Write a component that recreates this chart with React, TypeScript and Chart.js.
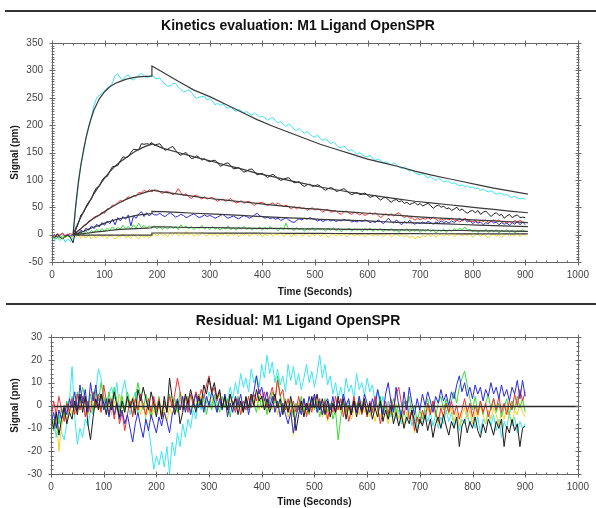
import React, { useEffect, useRef } from 'react';
import { Chart, registerables } from 'chart.js';

Chart.register(...registerables);

// ---------- data ----------
// Sensor traces are sampled every SAMPLE_STEP seconds, from 0 s to 900 s.
const SAMPLE_STEP = 5;

const cyanSignal = [
  -8, -12, -5, -11, -3, -14, -8, -13, -5, 48, 90, 128, 150, 178, 195, 216, 236, 250, 255, 258,
  262, 268, 271, 277, 290, 294, 286, 283, 289, 292, 285, 282, 287, 291, 295, 290, 286, 289, 292, 286,
  285, 286, 280, 275, 271, 272, 276, 276, 270, 265, 261, 262, 265, 260, 253, 249, 251, 252, 253, 246,
  249, 244, 237, 240, 236, 239, 233, 231, 234, 228, 225, 229, 226, 222, 225, 221, 218, 222, 219, 215,
  216, 213, 209, 212, 214, 208, 204, 207, 201, 198, 202, 199, 193, 190, 194, 189, 185, 188, 184, 180,
  178, 182, 176, 172, 175, 171, 166, 169, 165, 160, 158, 162, 157, 153, 155, 151, 147, 150, 146, 143,
  142, 145, 139, 136, 138, 135, 131, 133, 130, 127, 131, 128, 123, 121, 124, 119, 116, 118, 113, 111,
  109, 112, 107, 104, 106, 102, 99, 103, 100, 96, 98, 97, 93, 95, 92, 89, 91, 88, 89, 86,
  87, 84, 85, 81, 83, 80, 78, 80, 77, 74, 76, 75, 72, 73, 70, 68, 70, 67, 65, 67,
  64,
];
const blackSignal = [
  -2, -6, 1, -4, -8, -3, -1, -5, -15, 8, 20, 36, 40, 52, 60, 65, 78, 86, 88, 99,
  105, 106, 116, 124, 125, 126, 135, 142, 141, 142, 150, 156, 155, 155, 166, 165, 166, 165, 168, 163,
  165, 166, 160, 154, 156, 159, 161, 154, 148, 145, 148, 150, 144, 139, 140, 144, 141, 136, 139, 135,
  133, 135, 136, 131, 125, 127, 130, 131, 126, 120, 121, 123, 118, 114, 116, 119, 120, 115, 109, 111,
  112, 108, 104, 108, 110, 107, 102, 99, 101, 103, 104, 99, 95, 95, 97, 91, 88, 91, 92, 88,
  89, 91, 89, 84, 81, 84, 86, 84, 79, 80, 82, 84, 80, 76, 73, 75, 77, 73, 74, 76,
  72, 68, 70, 72, 67, 63, 67, 68, 63, 59, 63, 64, 60, 62, 57, 59, 55, 57, 59, 54,
  57, 52, 55, 57, 53, 48, 52, 54, 50, 52, 47, 49, 44, 47, 50, 44, 47, 42, 39, 43,
  44, 40, 44, 37, 41, 43, 38, 33, 38, 40, 35, 37, 30, 34, 37, 31, 34, 36, 31, 32,
  31,
];
const redSignal = [
  1, -3, 2, -1, 3, -2, 0, 2, -1, 3, 8, 10, 17, 18, 25, 26, 32, 34, 35, 41,
  39, 47, 48, 54, 53, 58, 63, 60, 65, 69, 67, 72, 70, 77, 76, 81, 78, 82, 78, 82,
  81, 78, 75, 78, 79, 76, 73, 76, 84, 77, 71, 75, 69, 66, 71, 72, 68, 65, 69, 65,
  67, 68, 64, 61, 64, 65, 61, 63, 66, 61, 58, 59, 62, 57, 60, 61, 57, 53, 57, 58,
  59, 56, 53, 56, 58, 54, 58, 54, 51, 54, 51, 47, 51, 47, 51, 47, 49, 44, 47, 49,
  45, 47, 45, 41, 45, 46, 41, 42, 44, 39, 37, 42, 43, 39, 37, 41, 39, 36, 39, 35,
  37, 40, 37, 40, 35, 31, 35, 38, 35, 38, 34, 38, 40, 35, 31, 35, 30, 31, 26, 30,
  27, 30, 28, 31, 28, 32, 28, 25, 29, 26, 29, 27, 30, 26, 27, 23, 26, 30, 26, 24,
  24, 26, 22, 26, 24, 27, 22, 24, 27, 24, 27, 22, 24, 21, 24, 22, 26, 23, 26, 23,
  22,
];
const blueSignal = [
  -3, 0, -5, -1, 2, -3, 1, -2, 0, 4, 1, 8, 5, 12, 8, 16, 11, 19, 14, 22,
  17, 25, 20, 28, 18, 31, 25, 33, 28, 36, 16, 34, 30, 38, 42, 33, 40, 34, 39, 36,
  36, 39, 35, 33, 37, 40, 36, 32, 34, 37, 35, 31, 33, 36, 38, 34, 31, 33, 36, 33,
  35, 33, 30, 32, 35, 37, 33, 30, 32, 34, 31, 29, 32, 35, 33, 30, 32, 36, 39, 34,
  33, 30, 32, 29, 31, 28, 30, 26, 28, 31, 27, 24, 22, 26, 29, 27, 30, 28, 31, 29,
  28, 25, 27, 24, 26, 28, 25, 27, 24, 26, 25, 28, 26, 27, 23, 25, 23, 26, 24, 27,
  25, 22, 24, 22, 27, 24, 20, 25, 30, 24, 21, 27, 22, 18, 24, 21, 26, 22, 19, 22,
  20, 23, 21, 24, 22, 19, 23, 21, 25, 22, 24, 21, 25, 22, 26, 30, 25, 28, 23, 26,
  20, 24, 21, 23, 18, 22, 20, 25, 21, 23, 18, 22, 19, 21, 17, 22, 19, 24, 18, 23,
  18,
];
const greenSignal = [
  -4, -8, -2, -6, -1, -5, -2, -6, -1, 2, -1, 4, 1, 6, 2, 8, 3, 10, 5, 11,
  6, 12, 8, 14, 9, 13, 10, 17, 11, 15, 10, 18, 12, 21, 13, 17, 11, 16, 12, 16,
  10, 15, 9, 14, 10, 16, 11, 15, 9, 18, 12, 16, 10, 15, 9, 14, 11, 17, 10, 14,
  9, 15, 10, 13, 8, 14, 10, 16, 9, 13, 8, 14, 10, 15, 9, 13, 8, 12, 10, 14,
  8, 13, 9, 15, 10, 12, 7, 13, 9, 21, 10, 12, 7, 13, 9, 12, 6, 11, 8, 13,
  7, 12, 9, 11, 6, 12, 8, 13, 7, 11, 5, 10, 8, 12, 6, 11, 8, 10, 5, 11,
  7, 12, 6, 10, 8, 11, 5, 10, 7, 11, 6, 9, 4, 10, 7, 11, 5, 9, 6, 10,
  4, 9, 6, 10, 5, 9, 3, 8, 6, 10, 4, 9, 6, 11, 7, 12, 9, 14, 8, 10,
  5, 9, 4, 8, 6, 10, 4, 8, 5, 9, 3, 8, 5, 9, 4, 8, 3, 7, 6, 9,
  5,
];
const yellowSignal = [
  -2, -5, -1, -9, -3, -6, 0, -4, -2, -5, 1, -7, -2, -6, 0, -8, -3, -6, 1, -5,
  -2, -7, 0, -4, -8, -2, -5, 1, -6, -3, -7, 0, -4, -8, -1, -5, -2, -6, -1, 2,
  -3, 4, -2, 1, -4, 3, -1, 5, -3, 2, -2, 6, -1, 3, -3, 2, -2, 4, 0, -3,
  3, -2, 2, -4, 1, -1, 4, -3, 2, -2, 3, -4, 1, -1, 4, -3, 0, 3, -2, 2,
  -4, 1, -2, 3, -3, 1, -1, 4, -3, 0, 2, -4, 1, -2, 3, -3, 0, 2, -4, 1,
  -2, 3, -3, 0, 2, -5, -1, 2, -3, 1, -2, 3, -4, 0, 2, -3, 1, -2, 3, -4,
  0, 2, -3, 1, -2, 3, -4, 0, 2, -5, -1, 2, -3, 1, -4, -1, -6, -2, -8, -3,
  -6, -1, -4, 1, -3, 0, -5, -1, 2, -3, 1, -2, 3, -4, 0, 2, -3, 1, -2, 3,
  -5, -1, 2, -3, 1, -2, -6, -1, 2, -3, 0, -5, -1, 2, -3, 0, -2, 3, -4, 1,
  -2,
];

// Fitted kinetic model curves (time points in seconds)
const fitTimes = [
  40, 45, 50, 55, 60, 65, 70, 75, 80, 90, 100, 110, 120, 130, 140, 150, 160, 170, 180, 190,
  190, 210, 240, 270, 300, 330, 360, 390, 420, 450, 480, 510, 540, 570, 600, 630, 660, 690,
  720, 750, 780, 810, 840, 870, 905,
];
const cyanFit = [
  0, 52, 95, 128, 155, 178, 198, 214, 228, 248, 261, 270, 276, 280, 283.5, 286, 287.5, 288.5, 289, 289.5,
  308, 297, 280, 264, 252, 238, 224, 210, 198, 187, 176, 165, 156, 147, 138, 131, 124, 116,
  109, 103, 97, 91, 85, 80, 74,
];
const blackFit = [
  0, 11, 22, 32, 42, 50, 58, 67, 75, 90, 103, 115, 125, 133, 140, 147, 153, 158, 162, 165,
  166, 158, 150, 142, 135, 127, 120, 112, 106, 99, 93, 87, 82, 77, 73, 69, 65, 61,
  58, 55, 52, 49, 46, 43, 40,
];
const redFit = [
  0, 3, 7, 11, 15, 19, 23, 27, 30, 36, 42, 48, 54, 59, 64, 68, 72, 75, 78, 80,
  81, 78, 74, 70, 66, 63, 60, 57, 54, 51, 48, 46, 43, 41, 39, 37, 35, 33,
  31, 29.5, 28, 26.5, 25, 23.5, 22,
];
const blueFit = [
  0, 1.5, 3, 4.5, 6, 8, 10, 12, 14, 17, 21, 24, 27, 29.5, 31, 33, 35, 36.5, 37.5, 38.5,
  42.5, 42, 40.5, 39, 38, 36.5, 35, 33.5, 32, 30.5, 29.5, 28, 27, 26, 25, 23.5, 22.5, 21.5,
  20.5, 19.5, 18.5, 17.5, 16.5, 15.5, 14.5,
];
const greenFit = [
  0, 0.5, 1, 1.5, 2, 2.5, 3, 3.5, 4.5, 5.5, 6.5, 7.5, 8.5, 9.5, 10, 10.5, 11, 11.5, 12, 12.5,
  14, 14, 13.5, 13, 13, 12.5, 12, 11.5, 11.5, 11, 10.5, 10.5, 10, 9.5, 9.5, 9, 8.5, 8.5,
  8, 7.5, 7.5, 7, 7, 6.5, 6,
];
const yellowFit = [
  -1, -1, -1, -1, -1, -1, -1, -1, -1, -1, -1, -1, -1, -1, -1, -1, -1, -1, -1, -1,
  3, 3, 3, 3, 2.9, 2.8, 2.7, 2.6, 2.5, 2.4, 2.3, 2.2, 2.1, 2, 2, 1.9, 1.8, 1.7,
  1.6, 1.6, 1.5, 1.5, 1.4, 1.4, 1.3,
];

// Residuals (signal minus fit), same sampling
const cyanResidual = [
  -10, -6, -14, -4, -12, -15, -8, 2, 17, -5, -17, -10, -14, -6, -9, -2, -4, 6, 16, 12,
  2, -3, 5, 8, 3, 10, -2, 6, 11, 3, -4, 2, 6, -3, 4, 1, -6, -10, -18, -28,
  -22, -26, -20, -27, -18, -30, -16, -22, -12, -18, -8, -14, -6, -10, -2, -6, 3, -2, 5, 1,
  6, 0, 4, -3, 2, -2, 5, 1, 8, 3, 10, 5, 14, 8, 12, 6, 16, 10, 13, 8,
  18, 12, 22, 14, 19, 10, 16, 9, 13, 6, 18, 11, 17, 9, 14, 7, 12, 18, 10, 15,
  8, 14, 22, 12, 18, 9, 13, 5, 10, 3, 8, 2, 12, 6, 9, 3, 14, 7, 10, 4,
  12, 6, 9, 2, 7, -1, 4, -3, 2, -5, 0, -6, -2, -8, -3, -7, -1, -9, -4, -10,
  -5, -8, -2, -7, -3, -9, -4, -10, -5, -8, -2, -7, -3, -9, -5, -11, -6, -8, -3, -9,
  -4, -10, -5, -12, -6, -8, -2, -9, -4, -11, -6, -14, -7, -10, -3, -9, -5, -12, -7, -10,
  -8,
];
const blackResidual = [
  -4, -10, -3, -13, -6, -1, -8, -3, -6, 2, -4, 5, -3, 4, -8, -15, -5, 3, -2, 5,
  1, -4, 3, -2, 6, 0, -5, 2, -3, 4, -1, 3, -4, 7, 2, 8, 3, -2, 6, 1,
  -5, 2, -6, 4, -3, 12, 3, -4, 2, -8, -3, 5, 1, 7, 2, -3, 4, 0, 9, 5,
  12, 6, 10, 3, 7, -1, 4, -2, 5, 0, 3, -4, 2, -3, 4, -1, 5, 0, 7, 2,
  4, -2, 3, -3, 1, 5, -1, 3, -4, 2, -3, 4, -2, -11, -4, 2, -5, 1, -3, 4,
  -1, 5, -2, 3, -4, 2, -5, 1, -3, 4, -2, 3, -6, 0, -4, 2, -5, 1, -3, 3,
  -4, 1, -6, -1, -5, 2, -7, -2, -6, 0, -8, -3, -9, -4, -10, -5, -8, -2, -7, -12,
  -6, -9, -4, -11, -6, -14, -8, -5, -10, -4, -9, -13, -7, -10, -5, -18, -9, -6, -12, -7,
  -10, -5, -11, -14, -8, -12, -6, -9, -13, -7, -10, -6, -18, -9, -12, -6, -11, -8, -18, -10,
  -9,
];
const redResidual = [
  -6, 2, -4, 4, -2, -7, 1, -3, 3, -4, 5, -2, 4, -5, 2, -3, 6, -1, 5, -3,
  9, 2, -4, 3, -6, 1, -8, -3, -11, -4, 2, -5, 3, -2, 5, 0, -4, 3, -3, 4,
  -2, 3, -5, 2, -3, 4, -1, 5, 12, 6, -2, 4, -3, 5, 0, 6, 2, 7, 3, 9,
  13, 5, 8, 2, 6, -1, 4, -2, 5, 1, -3, 3, -4, 2, -2, 4, -1, 5, 2, 7,
  3, 6, -1, 4, 8, 2, 11, 4, 7, -2, 3, -4, 2, -3, 4, -2, 3, -5, 1, -3,
  5, -1, 3, -4, 2, -6, 0, -3, 4, -2, 3, -5, 1, -7, -2, 4, -3, 2, -4, 1,
  -5, 2, -3, 4, -1, -8, -3, 2, -4, 3, -2, 5, 8, 1, -4, 2, -6, -2, -11, -5,
  -8, -2, -6, 1, -4, 2, -3, -7, -1, -5, 1, -3, 2, -4, 0, -6, -2, 3, -3, 1,
  -5, 0, -4, 2, -3, 1, -5, -1, 3, -2, 4, -3, 1, -4, 2, -2, 5, 0, 7, 2,
  6,
];
const blueResidual = [
  -8, -3, -10, -2, -6, 0, -4, 3, -1, 6, -2, 9, 1, 7, -3, 10, 2, 9, -1, 5,
  -2, 3, -5, 2, -4, 1, -6, -2, -8, -4, -10, -16, -8, -3, -9, -14, -6, -11, -4, -8,
  -12, -5, -9, -3, -7, -12, -4, -1, 3, -2, 4, -3, 2, -4, 1, 5, -1, 3, -3, 4,
  0, 6, 2, -3, 3, -2, 5, -5, 1, -3, 4, 0, 5, -2, 3, -4, 2, 6, 13, 5,
  8, 2, 6, -1, 4, -3, 2, -5, 1, -4, -8, -3, -12, -5, 0, -4, 3, -2, 4, -1,
  5, -3, 2, -4, 1, 3, -2, 4, -3, 2, -1, 5, 0, 3, -4, 2, -3, 4, -2, 5,
  1, -3, 3, -1, 7, 2, -4, 5, 10, 2, -3, 8, 0, -5, 6, -2, 8, 1, -4, 3,
  -2, 5, 0, 6, 2, -3, 4, 1, 7, 2, 5, 0, 6, 3, 9, 13, 6, 10, 4, 8,
  3, 9, 5, 8, 2, 7, 4, 10, 5, 8, 3, 9, 4, 7, 2, 8, 5, 11, 3, 11,
  4,
];
const greenResidual = [
  -6, -11, -3, -8, -1, -5, 2, -3, 4, -1, 6, 1, 8, 3, -2, 5, -3, 7, 2, 10,
  4, -1, 6, 0, 8, 2, -3, 4, -2, 6, 1, -4, 3, 10, 4, -2, 5, 0, -5, 2,
  -3, 4, -4, 1, -2, 5, 0, 3, -3, 6, 1, -2, 4, -3, 2, -1, 5, 0, 3, -4,
  2, -2, 5, 1, -3, 4, -1, 3, -5, 2, -2, 4, 0, -3, 3, -2, 5, 1, -3, 4,
  -1, 3, -4, 2, 6, 1, 13, 5, -2, 3, -3, 2, -5, 1, -2, 4, -3, 1, -4, 3,
  -2, 2, -5, 0, 3, -3, 1, -6, -2, -15, -5, 1, -3, 2, -4, 3, -1, 4, -3, 2,
  -5, 1, -3, 3, -2, 4, -4, 0, -6, -2, 3, -3, 1, -5, 2, -2, 4, -4, 0, -7,
  -2, -6, -1, 3, -3, 2, -5, 1, 4, -2, 3, -3, 2, 6, 1, 8, 12, 15, 9, 3,
  -2, 4, -3, 2, -4, 1, 5, -2, 3, -3, 1, -5, -1, 3, -4, 2, -2, 4, -1, 3,
  -3,
];
const yellowResidual = [
  -2, -8, -4, -20, -9, -3, -6, 0, -4, 2, -3, 4, -1, 3, -4, 2, -2, 5, 0, -3,
  4, -1, 3, -4, 2, -2, 5, 0, -3, 3, -1, 4, -2, 2, -4, 1, -5, -1, -6, -2,
  -4, 0, -5, -2, -7, -1, -4, 1, -3, 3, -2, 4, 0, -3, 2, 6, 1, 4, -2, 3,
  -1, 4, 0, -3, 2, -2, 3, -4, 1, -2, 4, -1, 2, -3, 3, -1, 5, 0, 3, -2,
  4, 0, -3, 2, -2, 3, -4, 1, -3, 2, -5, -2, -13, -4, 1, -3, 2, -4, 0, -2,
  3, -3, 1, -5, -1, -7, -2, 2, -4, 0, -3, 2, -5, -1, -6, -2, 1, -4, 2, -3,
  0, -5, -1, -7, -2, -5, 0, -3, -8, -2, -5, 1, -6, -2, -9, -3, -6, -1, -12, -5,
  -8, -3, -6, -1, -4, 2, -3, -8, -2, -5, 1, -4, -1, -7, -3, -9, -4, -1, -6, -2,
  -8, -3, -5, 0, -4, -8, -2, -6, -1, -4, -9, -3, -6, -1, -5, -8, -2, -4, 1, -3,
  -5,
];

// ---------- styling ----------
const FONT = '"Liberation Sans", Arial, Helvetica, sans-serif';
const COLORS = {
  cyan: '#38E6F2',
  black: '#1c1c1c',
  red: '#F23030',
  blue: '#2A2AE0',
  green: '#36DC36',
  yellow: '#F2D21E',
  fit: '#3a3a3a',
};

const sampled = (values: number[]) => values.map((y, i) => ({ x: i * SAMPLE_STEP, y }));
const fitted = (values: number[]) => values.map((y, i) => ({ x: fitTimes[i], y }));

const lineDs = (data: any[], color: string, width = 1) => ({
  data,
  borderColor: color,
  backgroundColor: color,
  borderWidth: width,
  pointRadius: 0,
  tension: 0,
  fill: false,
});

type FrameOpts = {
  title: string;
  xTitle: string;
  yTitle: string;
  titleY: number;
  xTitleY: number;
  xMajor: number;
  xMinor: number;
  yMajor: number;
  yMinor: number;
  zeroLine?: boolean;
};

function framePlugin(o: FrameOpts) {
  return {
    id: 'frame',
    afterDatasetsDraw(chart: any) {
      if (!o.zeroLine) return;
      const { ctx, chartArea: a, scales } = chart;
      const y = Math.round(scales.y.getPixelForValue(0)) + 0.5;
      ctx.save();
      ctx.strokeStyle = '#2a2a2a';
      ctx.lineWidth = 1.5;
      ctx.beginPath();
      ctx.moveTo(a.left, y);
      ctx.lineTo(a.right, y);
      ctx.stroke();
      ctx.restore();
    },
    afterDraw(chart: any) {
      const { ctx, chartArea: a, scales, width } = chart;
      const xs = scales.x;
      const ys = scales.y;
      const L = Math.round(a.left) + 0.5;
      const R = Math.round(a.right) + 0.5;
      const T = Math.round(a.top) + 0.5;
      const B = Math.round(a.bottom) + 0.5;
      ctx.save();
      ctx.strokeStyle = '#666';
      ctx.lineWidth = 1;
      ctx.strokeRect(L, T, R - L, B - T);
      ctx.beginPath();
      const eps = 1e-6;
      for (let v = xs.min; v <= xs.max + eps; v += o.xMinor) {
        const major = Math.abs(v / o.xMajor - Math.round(v / o.xMajor)) < 1e-6;
        const px = Math.round(xs.getPixelForValue(v)) + 0.5;
        const inn = major ? 3 : 2;
        const out = major ? 3 : 0;
        ctx.moveTo(px, B + out);
        ctx.lineTo(px, B - inn);
        ctx.moveTo(px, T - out);
        ctx.lineTo(px, T + inn);
      }
      for (let v = ys.min; v <= ys.max + eps; v += o.yMinor) {
        const major = Math.abs(v / o.yMajor - Math.round(v / o.yMajor)) < 1e-6;
        const py = Math.round(ys.getPixelForValue(v)) + 0.5;
        const inn = major ? 3 : 2;
        const out = major ? 3 : 1;
        ctx.moveTo(L - out, py);
        ctx.lineTo(L + inn, py);
        ctx.moveTo(R + out, py);
        ctx.lineTo(R - inn, py);
      }
      ctx.stroke();

      ctx.fillStyle = '#111';
      ctx.textAlign = 'center';
      ctx.textBaseline = 'middle';
      ctx.font = `bold 14px ${FONT}`;
      ctx.fillText(o.title, width / 2, o.titleY);
      ctx.font = `bold 10px ${FONT}`;
      ctx.fillStyle = '#1a1a1a';
      ctx.fillText(o.xTitle, (a.left + a.right) / 2, o.xTitleY);
      ctx.translate(15, (a.top + a.bottom) / 2);
      ctx.rotate(-Math.PI / 2);
      ctx.fillText(o.yTitle, 0, 0);
      ctx.restore();
    },
  };
}

function baseOptions(p: {
  yMin: number; yMax: number; yStep: number; yWidth: number; xHeight: number; top: number;
}) {
  const tickFont = { family: FONT, size: 10 };
  return {
    animation: false,
    responsive: false,
    maintainAspectRatio: false,
    events: [],
    layout: { padding: { left: 0, right: 13, top: p.top, bottom: 0 } },
    plugins: {
      legend: { display: false },
      tooltip: { enabled: false },
      title: { display: false },
    },
    scales: {
      x: {
        type: 'linear',
        min: 0,
        max: 1000,
        border: { display: false },
        grid: { display: true, drawOnChartArea: false, drawTicks: false, color: 'rgba(0,0,0,0)' },
        ticks: {
          stepSize: 100,
          padding: 7,
          color: '#444',
          font: tickFont,
          maxRotation: 0,
          autoSkip: false,
          callback: (v: any) => String(v),
        },
        afterFit: (s: any) => { s.height = p.xHeight; },
      },
      y: {
        type: 'linear',
        min: p.yMin,
        max: p.yMax,
        border: { display: false },
        grid: { display: true, drawOnChartArea: false, drawTicks: false, color: 'rgba(0,0,0,0)' },
        ticks: {
          stepSize: p.yStep,
          padding: 9,
          color: '#444',
          font: tickFont,
          autoSkip: false,
          callback: (v: any) => String(v),
        },
        afterFit: (s: any) => { s.width = p.yWidth; },
      },
    },
  };
}

function KineticsChart() {
  const ref = useRef<HTMLCanvasElement>(null);
  useEffect(() => {
    if (!ref.current) return;
    const chart = new Chart(ref.current, {
      type: 'line',
      data: {
        datasets: [
          lineDs(fitted(cyanFit), COLORS.fit, 1.2),
          lineDs(fitted(blackFit), COLORS.fit, 1.2),
          lineDs(fitted(redFit), COLORS.fit, 1.2),
          lineDs(fitted(blueFit), COLORS.fit, 1.2),
          lineDs(fitted(greenFit), COLORS.fit, 1.2),
          lineDs(fitted(yellowFit), COLORS.fit, 1.2),
          lineDs(sampled(blackSignal), COLORS.black),
          lineDs(sampled(redSignal), COLORS.red),
          lineDs(sampled(blueSignal), COLORS.blue),
          lineDs(sampled(greenSignal), COLORS.green),
          lineDs(sampled(yellowSignal), COLORS.yellow),
          lineDs(sampled(cyanSignal), COLORS.cyan),
        ],
      },
      options: baseOptions({ yMin: -50, yMax: 350, yStep: 50, yWidth: 52, xHeight: 38, top: 31 }) as any,
      plugins: [
        framePlugin({
          title: 'Kinetics evaluation: M1 Ligand OpenSPR',
          xTitle: 'Time (Seconds)',
          yTitle: 'Signal (pm)',
          titleY: 14,
          xTitleY: 280,
          xMajor: 100,
          xMinor: 20,
          yMajor: 50,
          yMinor: 5,
        }),
      ],
    });
    return () => chart.destroy();
  }, []);
  return (
    <canvas
      ref={ref}
      width={596}
      height={288}
      style={{ position: 'absolute', left: 0, top: 12, width: 596, height: 288, display: 'block' }}
    />
  );
}

function ResidualChart() {
  const ref = useRef<HTMLCanvasElement>(null);
  useEffect(() => {
    if (!ref.current) return;
    const chart = new Chart(ref.current, {
      type: 'line',
      data: {
        datasets: [
          lineDs(sampled(blackResidual), COLORS.black),
          lineDs(sampled(blueResidual), COLORS.blue),
          lineDs(sampled(redResidual), COLORS.red),
          lineDs(sampled(greenResidual), COLORS.green),
          lineDs(sampled(yellowResidual), COLORS.yellow),
          lineDs(sampled(cyanResidual), COLORS.cyan),
        ],
      },
      options: baseOptions({ yMin: -30, yMax: 30, yStep: 10, yWidth: 51, xHeight: 34, top: 31 }) as any,
      plugins: [
        framePlugin({
          title: 'Residual: M1 Ligand OpenSPR',
          xTitle: 'Time (Seconds)',
          yTitle: 'Signal (pm)',
          titleY: 15,
          xTitleY: 196,
          xMajor: 100,
          xMinor: 20,
          yMajor: 10,
          yMinor: 2,
          zeroLine: true,
        }),
      ],
    });
    return () => chart.destroy();
  }, []);
  return (
    <canvas
      ref={ref}
      width={596}
      height={202}
      style={{ position: 'absolute', left: 0, top: 306, width: 596, height: 202, display: 'block' }}
    />
  );
}

export default function App() {
  return (
    <div
      style={{
        position: 'fixed',
        left: 0,
        top: 0,
        width: 596,
        height: 508,
        background: '#fff',
        overflow: 'hidden',
      }}
    >
      <div style={{ position: 'absolute', left: 5, top: 10, width: 591, height: 2, background: '#333' }} />
      <KineticsChart />
      <div style={{ position: 'absolute', left: 6, top: 303, width: 590, height: 2, background: '#333' }} />
      <ResidualChart />
    </div>
  );
}
